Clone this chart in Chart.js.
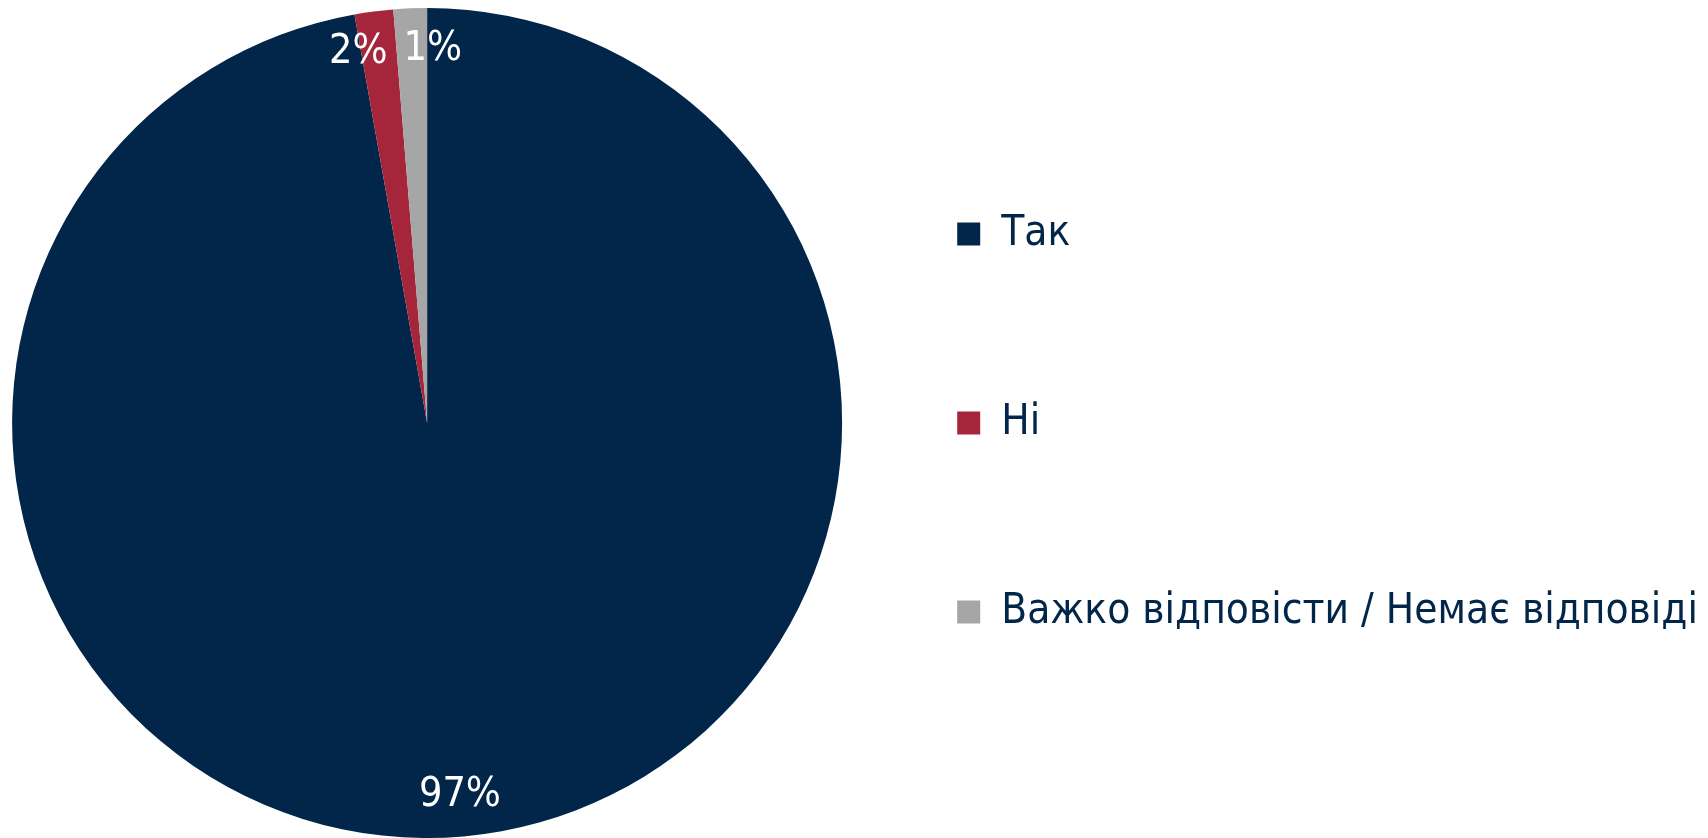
<!DOCTYPE html>
<html>
<head>
<meta charset="utf-8">
<script src="https://cdn.jsdelivr.net/npm/chart.js@4"></script>
<style>
  html, body { margin: 0; padding: 0; background: #ffffff; }
  #wrap { width: 1708px; height: 838px; }
</style>
</head>
<body>
<div id="wrap"><canvas id="pieChart" width="1708" height="838"></canvas></div>
<script>
// Chart data
const categories = ['Так', 'Ні', 'Важко відповісти / Немає відповіді'];
const shares = [97.2, 1.5, 1.3];
const sliceColors = ['#012649', '#A5253A', '#A6A6A6'];

const legendFont = "'DejaVu Sans Condensed', 'DejaVu Sans', sans-serif";
const labelFont = "'DejaVu Sans Condensed', 'DejaVu Sans', sans-serif";
const navy = '#012649';

// Percent labels on the slices, nudged apart when they collide
const sliceLabels = {
    id: 'sliceLabels',
    afterDatasetsDraw(chart) {
        const ctx = chart.ctx;
        const meta = chart.getDatasetMeta(0);
        ctx.save();
        ctx.fillStyle = '#ffffff';
        ctx.font = '41px ' + labelFont;
        ctx.textAlign = 'center';
        ctx.textBaseline = 'middle';
        var items = meta.data.map((arc, i) => {
            const p = arc.getProps(['x', 'y', 'startAngle', 'endAngle', 'outerRadius'], true);
            const mid = (p.startAngle + p.endAngle) / 2;
            const r = p.outerRadius * 0.9;
            const text = Math.round(shares[i]) + '%';
            return {
                text: text,
                x: p.x + Math.cos(mid) * r,
                y: p.y + Math.sin(mid) * r,
                w: ctx.measureText(text).width
            };
        });
        // simple horizontal de-overlap between neighbours
        for (var i = 1; i < items.length; i++) {
            var a = items[i - 1], b = items[i];
            if (Math.abs(a.y - b.y) < 41) {
                var need = (a.w + b.w) / 2 + 16;
                var gap = Math.abs(b.x - a.x);
                if (gap < need) {
                    var push = (need - gap) / 2;
                    var dir = b.x >= a.x ? 1 : -1;
                    a.x -= push * dir;
                    b.x += push * dir;
                }
            }
        }
        items.forEach(it => ctx.fillText(it.text, it.x, it.y));
        ctx.restore();
    }
};

const pieCtx = document.getElementById('pieChart').getContext('2d');
const pieChart = new Chart(pieCtx, {
    type: 'pie',
    data: {
        labels: categories,
        datasets: [{
            data: shares,
            backgroundColor: sliceColors,
            borderWidth: 0,
            radius: 415
        }]
    },
    options: {
        responsive: false,
        animation: false,
        layout: {
            padding: { left: 44, top: 8, right: 0, bottom: 0 }
        },
        plugins: {
            tooltip: { enabled: false },
            legend: {
                position: 'right',
                align: 'center',
                maxWidth: 1200,
                labels: {
                    boxWidth: 23,
                    boxHeight: 23,
                    padding: 147,
                    color: navy,
                    font: { size: 42, family: legendFont }
                }
            }
        }
    },
    plugins: [sliceLabels]
});
</script>
</body>
</html>
